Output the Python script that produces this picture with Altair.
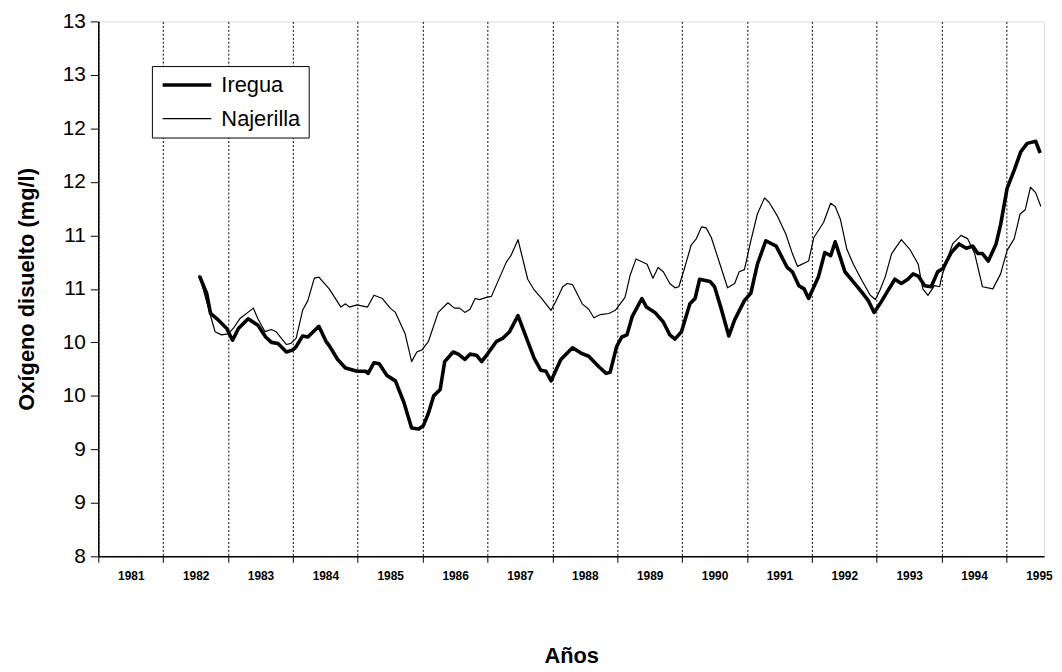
import altair as alt
import pandas as pd

# --- data (decimal year, mg/l) ---
iregua_year = [1982.56, 1982.67, 1982.73, 1982.83, 1982.98, 1983.07, 1983.16, 1983.31, 1983.46, 1983.58,
               1983.67, 1983.77, 1983.90, 1984.00, 1984.05, 1984.15, 1984.23, 1984.40, 1984.51, 1984.56,
               1984.69, 1984.81, 1984.99, 1985.12, 1985.16, 1985.25, 1985.33, 1985.45, 1985.58, 1985.71,
               1985.83, 1985.94, 1986.01, 1986.09, 1986.17, 1986.27, 1986.34, 1986.47, 1986.55, 1986.65,
               1986.73, 1986.83, 1986.91, 1987.01, 1987.14, 1987.24, 1987.34, 1987.47, 1987.62, 1987.72,
               1987.82, 1987.90, 1987.98, 1988.13, 1988.31, 1988.44, 1988.56, 1988.72, 1988.83, 1988.89,
               1988.99, 1989.07, 1989.15, 1989.23, 1989.38, 1989.45, 1989.58, 1989.71, 1989.81, 1989.89,
               1989.99, 1990.12, 1990.20, 1990.27, 1990.43, 1990.50, 1990.60, 1990.72, 1990.81, 1990.96,
               1991.06, 1991.16, 1991.29, 1991.45, 1991.62, 1991.70, 1991.80, 1991.88, 1991.95, 1992.10,
               1992.20, 1992.29, 1992.36, 1992.51, 1992.62, 1992.77, 1992.87, 1992.96, 1993.05, 1993.15,
               1993.28, 1993.38, 1993.48, 1993.56, 1993.64, 1993.74, 1993.84, 1993.94, 1994.02, 1994.15,
               1994.27, 1994.38, 1994.48, 1994.56, 1994.63, 1994.72, 1994.84, 1994.91, 1995.01, 1995.12,
               1995.22, 1995.32, 1995.45, 1995.52]
iregua_val = [10.62, 10.46, 10.27, 10.22, 10.13, 10.02, 10.13, 10.22, 10.16, 10.05,
              10.00, 9.99, 9.91, 9.93, 9.96, 10.06, 10.05, 10.15, 10.01, 9.97,
              9.84, 9.76, 9.73, 9.73, 9.71, 9.81, 9.80, 9.69, 9.64, 9.44,
              9.20, 9.19, 9.22, 9.34, 9.50, 9.56, 9.82, 9.91, 9.89, 9.84,
              9.89, 9.88, 9.82, 9.90, 10.01, 10.04, 10.10, 10.25, 10.01, 9.85,
              9.74, 9.73, 9.64, 9.84, 9.95, 9.90, 9.87, 9.77, 9.71, 9.72,
              9.96, 10.05, 10.07, 10.24, 10.41, 10.33, 10.28, 10.19, 10.07, 10.03,
              10.10, 10.36, 10.41, 10.59, 10.57, 10.52, 10.32, 10.06, 10.21, 10.39,
              10.46, 10.73, 10.95, 10.90, 10.70, 10.66, 10.53, 10.50, 10.41, 10.61,
              10.84, 10.81, 10.94, 10.66, 10.58, 10.47, 10.39, 10.28, 10.36, 10.46,
              10.59, 10.55, 10.59, 10.64, 10.62, 10.53, 10.52, 10.66, 10.69, 10.84,
              10.92, 10.88, 10.90, 10.83, 10.83, 10.76, 10.92, 11.10, 11.44, 11.61,
              11.78, 11.86, 11.88, 11.77]

najerilla_year = [1982.55, 1982.62, 1982.72, 1982.80, 1982.90, 1983.00, 1983.08, 1983.18, 1983.39, 1983.46,
                  1983.57, 1983.67, 1983.74, 1983.90, 1983.97, 1984.05, 1984.15, 1984.23, 1984.33, 1984.40,
                  1984.56, 1984.74, 1984.81, 1984.87, 1984.99, 1985.15, 1985.25, 1985.38, 1985.50, 1985.58,
                  1985.73, 1985.83, 1985.91, 1985.99, 1986.09, 1986.24, 1986.39, 1986.49, 1986.57, 1986.65,
                  1986.73, 1986.81, 1986.88, 1986.98, 1987.06, 1987.29, 1987.36, 1987.47, 1987.62, 1987.72,
                  1987.82, 1987.90, 1987.98, 1988.05, 1988.16, 1988.23, 1988.31, 1988.46, 1988.56, 1988.64,
                  1988.74, 1988.87, 1988.97, 1989.12, 1989.20, 1989.29, 1989.46, 1989.55, 1989.63, 1989.71,
                  1989.81, 1989.89, 1989.95, 1990.04, 1990.14, 1990.22, 1990.30, 1990.37, 1990.45, 1990.60,
                  1990.70, 1990.81, 1990.88, 1990.96, 1991.06, 1991.16, 1991.27, 1991.34, 1991.47, 1991.60,
                  1991.70, 1991.78, 1991.95, 1992.03, 1992.18, 1992.29, 1992.36, 1992.44, 1992.54, 1992.64,
                  1992.77, 1992.90, 1992.98, 1993.05, 1993.13, 1993.23, 1993.38, 1993.51, 1993.64, 1993.71,
                  1993.79, 1993.89, 1993.97, 1994.00, 1994.10, 1994.17, 1994.30, 1994.40, 1994.51, 1994.63,
                  1994.79, 1994.91, 1995.01, 1995.12, 1995.21, 1995.29, 1995.37, 1995.45, 1995.53]
najerilla_val = [10.63, 10.49, 10.27, 10.10, 10.07, 10.08, 10.13, 10.22, 10.32, 10.22,
                 10.10, 10.12, 10.10, 9.98, 9.99, 10.04, 10.30, 10.39, 10.60, 10.61,
                 10.50, 10.33, 10.36, 10.33, 10.35, 10.33, 10.44, 10.41, 10.32, 10.28,
                 10.08, 9.82, 9.91, 9.93, 10.01, 10.28, 10.37, 10.32, 10.32, 10.28,
                 10.31, 10.41, 10.40, 10.42, 10.43, 10.75, 10.81, 10.96, 10.59, 10.49,
                 10.42, 10.36, 10.30, 10.38, 10.52, 10.55, 10.54, 10.36, 10.31, 10.23,
                 10.26, 10.27, 10.30, 10.42, 10.63, 10.78, 10.73, 10.60, 10.70, 10.66,
                 10.55, 10.51, 10.52, 10.70, 10.91, 10.97, 11.08, 11.07, 10.98, 10.70,
                 10.51, 10.55, 10.66, 10.68, 10.95, 11.20, 11.35, 11.31, 11.18, 11.01,
                 10.83, 10.71, 10.76, 10.98, 11.12, 11.30, 11.27, 11.15, 10.87, 10.73,
                 10.58, 10.44, 10.40, 10.49, 10.61, 10.83, 10.96, 10.87, 10.73, 10.50,
                 10.44, 10.53, 10.52, 10.61, 10.80, 10.92, 11.00, 10.97, 10.83, 10.52,
                 10.50, 10.64, 10.86, 10.97, 11.20, 11.24, 11.45, 11.40, 11.27]

series_names = ["Iregua", "Najerilla"]
year_ticks = list(range(1981, 1996))
y_ticks = [8.0, 8.5, 9.0, 9.5, 10.0, 10.5, 11.0, 11.5, 12.0, 12.5, 13.0]

df = pd.concat([
    pd.DataFrame({"anio": iregua_year, "valor": iregua_val, "serie": series_names[0]}),
    pd.DataFrame({"anio": najerilla_year, "valor": najerilla_val, "serie": series_names[1]}),
], ignore_index=True)

FONT = "Liberation Sans"

chart = alt.Chart(df).mark_line(color="black", strokeJoin="round").encode(
    x=alt.X("anio:Q",
            scale=alt.Scale(domain=[1981, 1995.58], nice=False, zero=False),
            axis=alt.Axis(values=year_ticks, format="d", title="Años",
                          labelOffset=32.7, labelFontSize=12, labelFontWeight="bold",
                          labelPadding=8, tickSize=6, tickColor="black",
                          domainColor="black", domainWidth=1.5,
                          grid=True, gridColor="black", gridDash=[2, 2], gridWidth=1,
                          titleFontSize=22, titleFontWeight="bold", titlePadding=65,
                          labelFlush=False, labelOverlap=False)),
    y=alt.Y("valor:Q",
            scale=alt.Scale(domain=[8, 13], nice=False, zero=False),
            axis=alt.Axis(values=y_ticks, format=".0f", title="Oxígeno disuelto (mg/l)",
                          labelFontSize=21, labelPadding=5, tickSize=8, tickColor="black",
                          domainColor="black", domainWidth=1.5, grid=False,
                          titleFontSize=22, titleFontWeight="bold", titlePadding=24,
                          labelOverlap=False)),
    strokeWidth=alt.StrokeWidth("serie:O",
                                scale=alt.Scale(domain=series_names, range=[3.6, 1.2]),
                                legend=alt.Legend(title=None, orient="none", legendX=54, legendY=45,
                                                  labelFontSize=22, symbolType="M-1,0H5",
                                                  symbolSize=267, symbolStrokeColor="black",
                                                  labelOffset=40, rowPadding=12, padding=8,
                                                  strokeColor="black", fillColor="white",
                                                  labelColor="black")),
    order=alt.Order("anio:Q"),
).properties(
    width=953, height=539,
    autosize=alt.AutoSizeParams(type="none"),
    padding={"left": 91, "top": 11, "right": 10, "bottom": 110},
    background="white",
).configure_view(
    stroke="black", strokeWidth=1,
).configure(
    font=FONT,
).configure_axis(
    labelColor="black", titleColor="black", labelFont=FONT, titleFont=FONT,
).configure_legend(
    labelFont=FONT,
)

chart.save("out.html", embed_options={"renderer": "svg", "actions": False})
